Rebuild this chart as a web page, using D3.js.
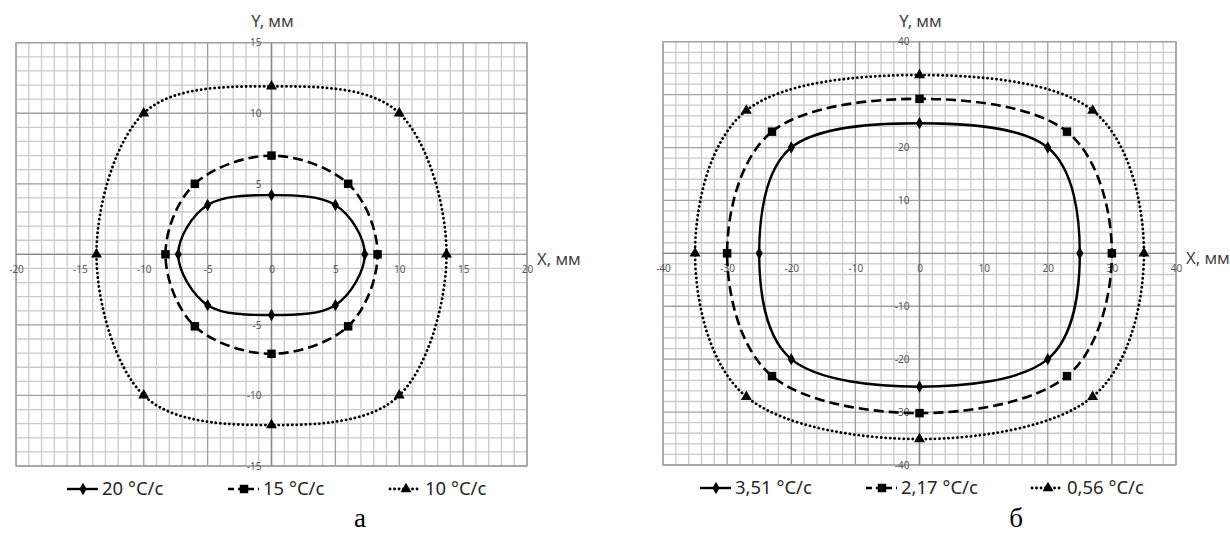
<!DOCTYPE html>
<html>
<head>
<meta charset="utf-8">
<style>
  body { margin: 0; background: #fff; }
  text { font-family: "Noto Sans", "Open Sans", sans-serif; }
</style>
</head>
<body>
<script src="https://cdnjs.cloudflare.com/ajax/libs/d3/7.8.5/d3.min.js"></script>
<script>

// chart а : X, Y in mm
var namesA = ["20 °C/c", "15 °C/c", "10 °C/c"];
var a20 = [[-7.3, 0], [-5, 3.5], [0, 4.2], [5, 3.5], [7.3, 0], [5, -3.6], [0, -4.3], [-5, -3.6]];
var a15 = [[-8.3, 0], [-6, 5], [0, 7], [6, 5], [8.3, 0], [6, -5.1], [0, -7.05], [-6, -5.1]];
var a10 = [[-13.7, 0], [-10, 10], [0, 11.9], [10, 10], [13.7, 0], [10, -10], [0, -12.1], [-10, -10]];
var xTicksA = [-20, -15, -10, -5, 0, 5, 10, 15, 20];
var yTicksA = [15, 10, 5, -5, -10, -15];

// chart б
var namesB = ["3,51 °C/c", "2,17 °C/c", "0,56 °C/c"];
var b351 = [[-25, 0], [-20, 20], [0, 24.6], [20, 20], [25, 0], [20, -20], [0, -25.2], [-20, -20]];
var b217 = [[-30, 0], [-23, 23], [0, 29.2], [23, 23], [30, 0], [23, -23.2], [0, -30.2], [-23, -23.2]];
var b056 = [[-35, 0], [-27, 27], [0, 33.7], [27, 27], [35, 0], [27, -27.1], [0, -35.1], [-27, -27.1]];
var xTicksB = [-40, -30, -20, -10, 0, 10, 20, 30, 40];
var yTicksB = [40, 20, 10, -10, -20, -30, -40];

var width = 1230,
    height = 533;

var svg = d3.select("body")
    .append("svg")
    .attr("width", width)
    .attr("height", height);

// line / marker look of the three series
var styles = [
  { dash: null, w: 2.4, cap: "butt", symbol: d3.symbolDiamond, size: 44 },
  { dash: "10,5", w: 2.6, cap: "butt", symbol: d3.symbolSquare, size: 72 },
  { dash: "0.1,4.4", w: 2.8, cap: "round", symbol: d3.symbolTriangle, size: 52 }
];

function drawChart(c) {
  var x = d3.scaleLinear().domain(c.xDomain).range([c.left, c.right]);
  var y = d3.scaleLinear().domain(c.yDomain).range([c.bottom, c.top]);
  var g = svg.append("g");

  var xs = d3.range(c.xDomain[0], c.xDomain[1] + 0.001, c.minor),
      ys = d3.range(c.yDomain[0], c.yDomain[1] + 0.001, c.minor);

  function grid(values, isMajor, vertical, color) {
    g.selectAll(null)
        .data(values.filter(function(d) { return (Math.abs(d % c.major) < 1e-9) === isMajor; }))
      .enter().append("line")
        .attr("x1", function(d) { return vertical ? x(d) : c.left; })
        .attr("x2", function(d) { return vertical ? x(d) : c.right; })
        .attr("y1", function(d) { return vertical ? c.top : y(d); })
        .attr("y2", function(d) { return vertical ? c.bottom : y(d); })
        .style("stroke", color)
        .style("stroke-width", 1.3);
  }
  grid(xs, false, true, "#cacaca");
  grid(ys, false, false, "#cacaca");
  grid(xs, true, true, "#a0a0a0");
  grid(ys, true, false, "#a0a0a0");

  g.append("rect")
      .attr("x", c.left).attr("y", c.top)
      .attr("width", c.right - c.left).attr("height", c.bottom - c.top)
      .style("fill", "none").style("stroke", "#a0a0a0").style("stroke-width", 1.3);

  // axes through the origin
  g.append("line")
      .attr("x1", c.left).attr("x2", c.right).attr("y1", y(0)).attr("y2", y(0))
      .style("stroke", "#888").style("stroke-width", 1.4);
  g.append("line")
      .attr("x1", x(0)).attr("x2", x(0)).attr("y1", c.top).attr("y2", c.bottom)
      .style("stroke", "#888").style("stroke-width", 1.4);

  var xAxis = g.append("g")
      .attr("transform", "translate(0," + y(0) + ")")
      .call(d3.axisBottom(x).tickValues(c.xTicks).tickSize(0).tickPadding(12)
        .tickFormat(function(d) { return String(d); }));
  var yAxis = g.append("g")
      .attr("transform", "translate(" + x(0) + ",0)")
      .call(d3.axisLeft(y).tickValues(c.yTicks).tickSize(0).tickPadding(10)
        .tickFormat(function(d) { return String(d); }));
  [xAxis, yAxis].forEach(function(a) {
    a.select(".domain").remove();
    a.attr("font-family", null).attr("font-size", null);
    a.selectAll("text").style("font-size", "10px").style("fill", "#595959");
  });

  g.append("text")
      .attr("x", x(0) + 1).attr("y", 27)
      .attr("text-anchor", "middle")
      .style("font-size", "16.5px").style("fill", "#404040")
      .text("Y, мм");
  g.append("text")
      .attr("x", c.right + 10).attr("y", y(0) + 11)
      .style("font-size", "16.5px").style("fill", "#404040")
      .text("X, мм");

  var line = d3.line()
      .x(function(d) { return x(d[0]); })
      .y(function(d) { return y(d[1]); })
      .curve(d3.curveCardinalClosed.tension(0));

  c.series.forEach(function(s, i) {
    var st = styles[i];
    g.append("path")
        .attr("d", line(s))
        .style("fill", "none")
        .style("stroke", "#000")
        .style("stroke-width", st.w)
        .style("stroke-linecap", st.cap)
        .style("stroke-dasharray", st.dash);
    g.selectAll(null)
        .data(s)
      .enter().append("path")
        .attr("transform", function(d) { return "translate(" + x(d[0]) + "," + y(d[1]) + ")"; })
        .attr("d", d3.symbol().type(st.symbol).size(st.size))
        .style("fill", "#000");
  });

  // legend
  c.names.forEach(function(name, i) {
    var st = styles[i];
    var lg = g.append("g").attr("transform", "translate(" + c.legendX[i] + "," + c.legendY + ")");
    lg.append("line")
        .attr("x1", 0).attr("x2", 31)
        .style("stroke", "#000")
        .style("stroke-width", st.w)
        .style("stroke-linecap", st.cap)
        .style("stroke-dasharray", i === 1 ? "6,4" : st.dash);
    lg.append("path")
        .attr("transform", "translate(16,0)")
        .attr("d", d3.symbol().type(st.symbol).size(st.size))
        .style("fill", "#000");
    lg.append("text")
        .attr("x", 35).attr("dy", "0.35em")
        .style("font-size", "18.5px").style("fill", "#262626")
        .text(name);
  });

  svg.append("text")
      .attr("x", c.letterX).attr("y", 527)
      .attr("text-anchor", "middle")
      .style("font-family", "'Liberation Serif', serif")
      .style("font-size", "27px")
      .style("fill", "#000")
      .text(c.letter);
}

drawChart({
  left: 16, right: 527, top: 42.7, bottom: 466,
  xDomain: [-20, 20], yDomain: [-15, 15], minor: 1, major: 5,
  xTicks: xTicksA, yTicks: yTicksA,
  series: [a20, a15, a10], names: namesA,
  legendX: [67, 228, 390], legendY: 489,
  letter: "а", letterX: 360
});

drawChart({
  left: 663, right: 1176, top: 41.7, bottom: 465,
  xDomain: [-40, 40], yDomain: [-40, 40], minor: 2, major: 10,
  xTicks: xTicksB, yTicks: yTicksB,
  series: [b351, b217, b056], names: namesB,
  legendX: [700, 866, 1032], legendY: 488,
  letter: "б", letterX: 1016
});

</script>
</body>
</html>
